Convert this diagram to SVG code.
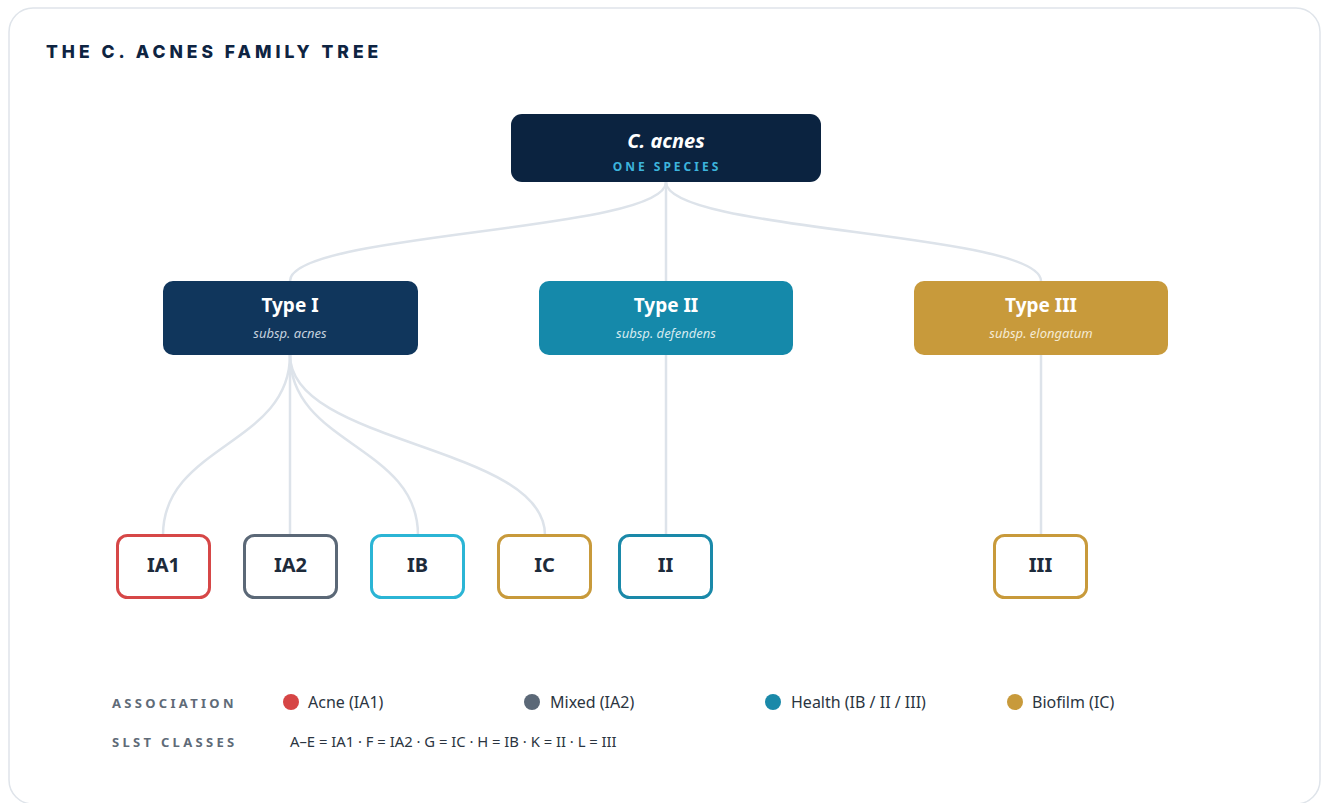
<svg xmlns="http://www.w3.org/2000/svg" width="1322" height="803" viewBox="0 0 1322 803">
<style>
.title{font-family:Inter,"Noto Sans",sans-serif;font-weight:800;font-size:17.5px;letter-spacing:4px;fill:#0e2442}
.nt{font-family:"Noto Sans",sans-serif;font-weight:700;fill:#ffffff;text-anchor:middle}
.sub{font-family:"Noto Sans",sans-serif;font-style:italic;font-size:13px;text-anchor:middle}
.leaf rect{fill:#ffffff;stroke-width:3}
.leaf text{font-family:"Noto Sans",sans-serif;font-weight:700;font-size:20px;fill:#1d2b3b;text-anchor:middle}
.conn path{fill:none;stroke:#dde3ea;stroke-width:2.5}
.lh{font-family:"Noto Sans",sans-serif;font-weight:700;font-size:13px;letter-spacing:3.3px;fill:#5f6b78}
.lt{font-family:"Noto Sans",sans-serif;font-size:16px;fill:#2b3541}
.st{font-family:"Noto Sans",sans-serif;font-size:14.8px;fill:#2b3541}
</style>
<rect x="0" y="0" width="1322" height="803" fill="#ffffff"/>
<rect x="9" y="8" width="1311" height="796" rx="24" fill="#ffffff" stroke="#dfe4ea" stroke-width="1.5"/>
<text class="title" x="46" y="58">THE C. ACNES FAMILY TREE</text>
<g class="conn">
<path d="M666,182 C666,232 290,232 290,281"/>
<path d="M666,182 L666,281"/>
<path d="M666,182 C666,232 1041,232 1041,281"/>
<path d="M290,355 C290,445 163,445 163,535"/>
<path d="M290,355 L290,535"/>
<path d="M290,355 C290,445 418,445 418,535"/>
<path d="M290,355 C290,445 545,445 545,535"/>
<path d="M666,355 L666,535"/>
<path d="M1041,355 L1041,535"/>
</g>
<g id="root">
<rect x="511" y="114" width="310" height="68" rx="11" fill="#0b2340"/>
<text class="nt" x="666" y="148" font-size="20" font-style="italic">C. acnes</text>
<text x="667" y="171" font-family="Noto Sans,sans-serif" font-weight="700" font-size="12" letter-spacing="3" fill="#3db4dc" text-anchor="middle">ONE SPECIES</text>
</g>
<g id="type1">
<rect x="163" y="281" width="255" height="74" rx="10" fill="#10365c"/>
<text class="nt" x="290" y="312" font-size="19">Type I</text>
<text class="sub" x="290" y="338" fill="#c3d0de">subsp. acnes</text>
</g>
<g id="type2">
<rect x="539" y="281" width="254" height="74" rx="10" fill="#1589aa"/>
<text class="nt" x="666" y="312" font-size="19">Type II</text>
<text class="sub" x="666" y="338" fill="#d3e9f0">subsp. defendens</text>
</g>
<g id="type3">
<rect x="914" y="281" width="254" height="74" rx="10" fill="#c89a3b"/>
<text class="nt" x="1041" y="312" font-size="19">Type III</text>
<text class="sub" x="1041" y="338" fill="#f5ebd4">subsp. elongatum</text>
</g>
<g id="ia1" class="leaf"><rect x="117.5" y="535.5" width="92" height="62" rx="10" stroke="#d64747"/><text x="163.5" y="572">IA1</text></g>
<g id="ia2" class="leaf"><rect x="244.5" y="535.5" width="92" height="62" rx="10" stroke="#5b6877"/><text x="290.5" y="572">IA2</text></g>
<g id="ib" class="leaf"><rect x="371.5" y="535.5" width="92" height="62" rx="10" stroke="#2bb5d5"/><text x="417.5" y="572">IB</text></g>
<g id="ic" class="leaf"><rect x="498.5" y="535.5" width="92" height="62" rx="10" stroke="#c89a3b"/><text x="544.5" y="572">IC</text></g>
<g id="ii" class="leaf"><rect x="619.5" y="535.5" width="92" height="62" rx="10" stroke="#1a89a9"/><text x="665.5" y="572">II</text></g>
<g id="iii" class="leaf"><rect x="994.5" y="535.5" width="92" height="62" rx="10" stroke="#c89a3b"/><text x="1040.5" y="572">III</text></g>
<g id="legend">
<text class="lh" x="112" y="708">ASSOCIATION</text>
<circle cx="291" cy="702" r="8" fill="#d64545"/>
<text class="lt" x="308" y="708">Acne (IA1)</text>
<circle cx="532" cy="702" r="8" fill="#5b6877"/>
<text class="lt" x="550" y="708">Mixed (IA2)</text>
<circle cx="773" cy="702" r="8" fill="#1a89a9"/>
<text class="lt" x="791" y="708">Health (IB / II / III)</text>
<circle cx="1015" cy="702" r="8" fill="#c89a3b"/>
<text class="lt" x="1032" y="708">Biofilm (IC)</text>
<text class="lh" x="112" y="747">SLST CLASSES</text>
<text class="st" x="290" y="747">A–E = IA1 · F = IA2 · G = IC · H = IB · K = II · L = III</text>
</g>
</svg>
